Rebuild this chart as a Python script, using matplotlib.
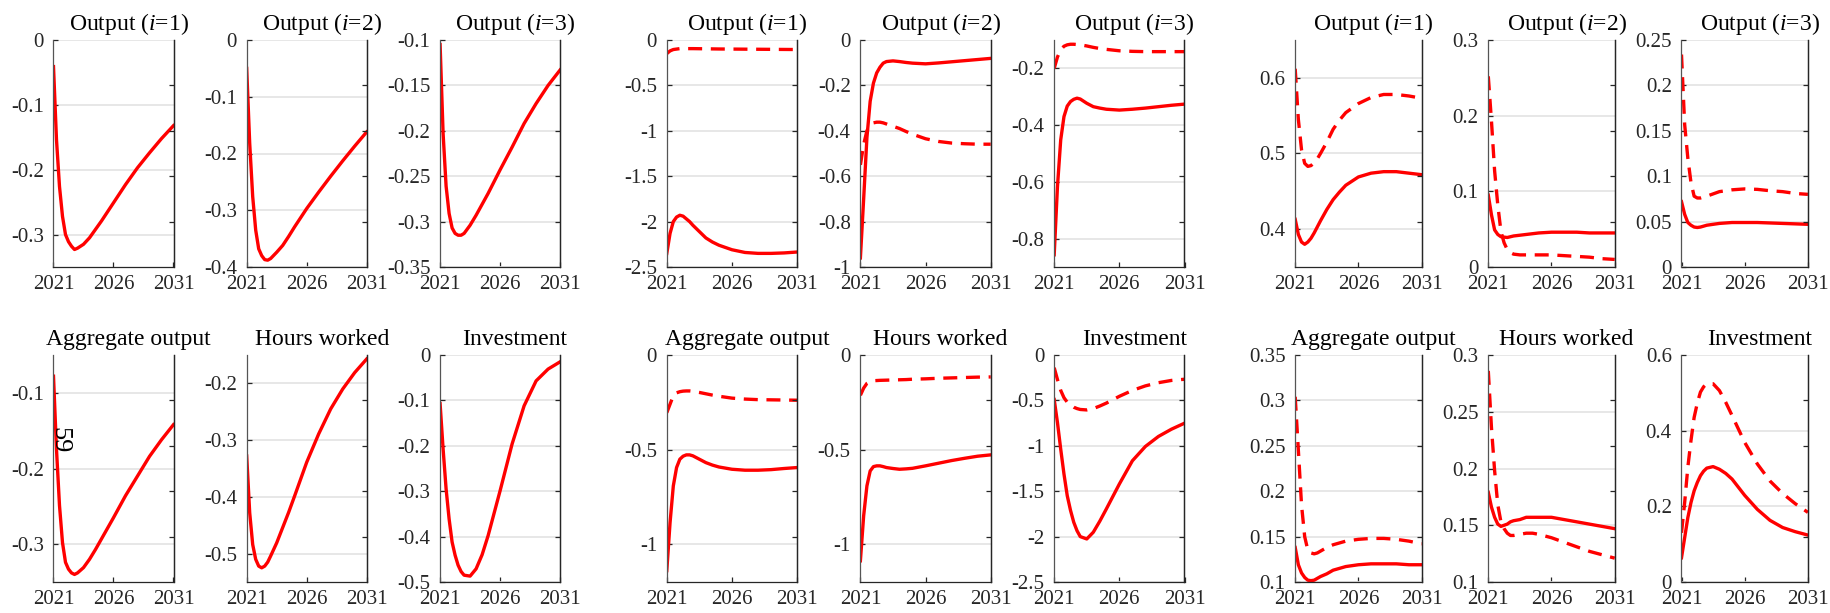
import numpy as np
import matplotlib
matplotlib.use('agg')
import matplotlib.pyplot as plt
from matplotlib.ticker import FormatStrFormatter

plt.rcParams['font.family'] = 'serif'
plt.rcParams['font.serif'] = ['Liberation Serif', 'DejaVu Serif']
plt.rcParams['mathtext.fontset'] = 'custom'
plt.rcParams['mathtext.rm'] = 'Liberation Serif'
plt.rcParams['mathtext.it'] = 'Liberation Serif:italic'

# sample points (years)
years = [2021, 2021.25, 2021.5, 2021.75, 2022, 2022.25, 2022.5, 2022.75, 2023,
         2023.5, 2024, 2024.5, 2025, 2026, 2027, 2028, 2029, 2030, 2031]

# ---- block 1 (single line) ----
b1_out1 = [-0.041, -0.154, -0.226, -0.272, -0.300, -0.311, -0.318, -0.323, -0.321,
           -0.315, -0.305, -0.292, -0.279, -0.251, -0.223, -0.197, -0.174, -0.152, -0.132]
b1_out2 = [-0.050, -0.182, -0.276, -0.335, -0.368, -0.380, -0.387, -0.388, -0.385,
           -0.374, -0.362, -0.346, -0.329, -0.297, -0.268, -0.240, -0.213, -0.187, -0.162]
b1_out3 = [-0.105, -0.203, -0.261, -0.291, -0.307, -0.313, -0.315, -0.315, -0.313,
           -0.304, -0.293, -0.281, -0.269, -0.243, -0.218, -0.192, -0.170, -0.150, -0.133]
b1_agg = [-0.078, -0.175, -0.249, -0.298, -0.324, -0.333, -0.338, -0.340, -0.338,
          -0.331, -0.320, -0.307, -0.293, -0.265, -0.236, -0.210, -0.184, -0.162, -0.142]
b1_hours = [-0.328, -0.428, -0.484, -0.510, -0.522, -0.525, -0.522, -0.515, -0.504,
            -0.481, -0.454, -0.427, -0.398, -0.339, -0.289, -0.245, -0.210, -0.181, -0.157]
b1_inv = [-0.107, -0.207, -0.295, -0.361, -0.412, -0.441, -0.463, -0.477, -0.485,
          -0.487, -0.471, -0.440, -0.398, -0.299, -0.196, -0.112, -0.057, -0.031, -0.015]

# ---- block 2 (solid / dashed) ----
b2_out1_s = [-2.35, -2.13, -2.00, -1.95, -1.93, -1.94, -1.97, -2.00, -2.04,
             -2.11, -2.18, -2.225, -2.26, -2.31, -2.34, -2.35, -2.35, -2.345, -2.335]
b2_out1_d = [-0.15, -0.12, -0.105, -0.10, -0.095, -0.095, -0.095, -0.095, -0.095,
             -0.096, -0.097, -0.098, -0.099, -0.100, -0.101, -0.102, -0.103, -0.104, -0.105]
b2_out2_s = [-0.96, -0.70, -0.43, -0.27, -0.19, -0.145, -0.12, -0.102, -0.095,
             -0.092, -0.095, -0.099, -0.102, -0.105, -0.101, -0.096, -0.091, -0.086, -0.081]
b2_out2_d = [-0.55, -0.46, -0.40, -0.375, -0.365, -0.362, -0.362, -0.365, -0.370,
             -0.380, -0.390, -0.403, -0.415, -0.435, -0.447, -0.454, -0.457, -0.459, -0.459]
b2_out3_s = [-0.857, -0.617, -0.452, -0.370, -0.333, -0.317, -0.309, -0.305, -0.308,
             -0.323, -0.335, -0.340, -0.344, -0.347, -0.344, -0.340, -0.335, -0.330, -0.326]
b2_out3_d = [-0.20, -0.16, -0.135, -0.122, -0.117, -0.115, -0.115, -0.116, -0.117,
             -0.121, -0.126, -0.130, -0.133, -0.138, -0.140, -0.141, -0.141, -0.141, -0.141]
b2_agg_s = [-1.14, -0.886, -0.692, -0.595, -0.551, -0.535, -0.528, -0.528, -0.533,
            -0.551, -0.569, -0.582, -0.592, -0.604, -0.609, -0.609, -0.606, -0.600, -0.595]
b2_agg_d = [-0.305, -0.26, -0.215, -0.20, -0.194, -0.191, -0.190, -0.190, -0.192,
            -0.198, -0.205, -0.212, -0.218, -0.228, -0.233, -0.236, -0.237, -0.238, -0.239]
b2_hours_s = [-1.088, -0.850, -0.692, -0.613, -0.590, -0.586, -0.586, -0.590, -0.595,
              -0.600, -0.604, -0.602, -0.599, -0.586, -0.572, -0.558, -0.546, -0.535, -0.528]
b2_hours_d = [-0.213, -0.175, -0.150, -0.140, -0.136, -0.135, -0.134, -0.1335, -0.133,
              -0.132, -0.131, -0.130, -0.128, -0.126, -0.123, -0.121, -0.119, -0.117, -0.116]
b2_inv_s = [-0.49, -0.744, -1.037, -1.311, -1.549, -1.71, -1.842, -1.935, -2.000,
            -2.026, -1.952, -1.83, -1.696, -1.421, -1.165, -1.007, -0.897, -0.817, -0.751]
b2_inv_d = [-0.14, -0.27, -0.39, -0.47, -0.52, -0.55, -0.575, -0.59, -0.60,
            -0.605, -0.59, -0.562, -0.53, -0.455, -0.39, -0.34, -0.305, -0.28, -0.267]

# ---- block 3 (solid / dashed) ----
b3_out1_s = [0.413, 0.393, 0.383, 0.380, 0.383, 0.388, 0.395, 0.403, 0.411,
             0.426, 0.439, 0.449, 0.458, 0.469, 0.474, 0.476, 0.476, 0.474, 0.472]
b3_out1_d = [0.612, 0.545, 0.505, 0.487, 0.483, 0.484, 0.488, 0.493, 0.500,
             0.515, 0.532, 0.544, 0.554, 0.566, 0.574, 0.578, 0.578, 0.576, 0.573]
b3_out2_s = [0.095, 0.069, 0.049, 0.043, 0.040, 0.0395, 0.039, 0.040, 0.041,
             0.042, 0.043, 0.044, 0.045, 0.046, 0.046, 0.046, 0.045, 0.045, 0.045]
b3_out2_d = [0.252, 0.193, 0.127, 0.082, 0.047, 0.032, 0.023, 0.019, 0.017,
             0.016, 0.016, 0.016, 0.016, 0.016, 0.015, 0.014, 0.013, 0.011, 0.010]
b3_out3_s = [0.072, 0.058, 0.049, 0.046, 0.044, 0.0435, 0.044, 0.045, 0.046,
             0.047, 0.048, 0.0485, 0.049, 0.049, 0.049, 0.0485, 0.048, 0.0475, 0.047]
b3_out3_d = [0.234, 0.157, 0.120, 0.093, 0.078, 0.076, 0.076, 0.077, 0.078,
             0.0805, 0.083, 0.084, 0.085, 0.086, 0.0855, 0.084, 0.083, 0.081, 0.080]
b3_agg_s = [0.138, 0.119, 0.110, 0.105, 0.102, 0.1015, 0.102, 0.104, 0.106,
            0.109, 0.113, 0.115, 0.117, 0.119, 0.120, 0.120, 0.120, 0.119, 0.119]
b3_agg_d = [0.304, 0.245, 0.185, 0.150, 0.135, 0.132, 0.131, 0.132, 0.134,
            0.138, 0.141, 0.143, 0.145, 0.147, 0.148, 0.148, 0.147, 0.145, 0.142]
b3_hours_s = [0.179, 0.166, 0.157, 0.151, 0.149, 0.150, 0.151, 0.153, 0.154,
              0.155, 0.157, 0.157, 0.157, 0.157, 0.155, 0.153, 0.151, 0.149, 0.147]
b3_hours_d = [0.286, 0.236, 0.198, 0.168, 0.153, 0.147, 0.143, 0.141, 0.141,
              0.142, 0.143, 0.143, 0.142, 0.139, 0.135, 0.131, 0.127, 0.124, 0.121]
b3_inv_s = [0.064, 0.117, 0.170, 0.210, 0.241, 0.263, 0.281, 0.293, 0.301,
            0.305, 0.298, 0.287, 0.272, 0.229, 0.192, 0.163, 0.144, 0.133, 0.124]
b3_inv_d = [0.13, 0.21, 0.303, 0.374, 0.435, 0.473, 0.502, 0.516, 0.524,
            0.524, 0.506, 0.475, 0.44, 0.369, 0.312, 0.267, 0.234, 0.207, 0.184]

xtick_vals = [2021, 2026, 2031]
t_out1 = r'Output ($\mathit{i}$=$\mathit{1}$)'
t_out2 = r'Output ($\mathit{i}$=$\mathit{2}$)'
t_out3 = r'Output ($\mathit{i}$=$\mathit{3}$)'

# (row, col, title, solid, dashed, ylim, yticks)
panels = [
    (0, 0, t_out1, b1_out1, None, (-0.35, 0), np.arange(-0.3, 0.01, 0.1)),
    (0, 1, t_out2, b1_out2, None, (-0.4, 0), np.arange(-0.4, 0.01, 0.1)),
    (0, 2, t_out3, b1_out3, None, (-0.35, -0.1), np.arange(-0.35, -0.09, 0.05)),
    (1, 0, 'Aggregate output', b1_agg, None, (-0.35, -0.05), [-0.3, -0.2, -0.1]),
    (1, 1, 'Hours worked', b1_hours, None, (-0.55, -0.15), [-0.5, -0.4, -0.3, -0.2]),
    (1, 2, 'Investment', b1_inv, None, (-0.5, 0), np.arange(-0.5, 0.01, 0.1)),
    (0, 3, t_out1, b2_out1_s, b2_out1_d, (-2.5, 0), np.arange(-2.5, 0.01, 0.5)),
    (0, 4, t_out2, b2_out2_s, b2_out2_d, (-1, 0), np.arange(-1, 0.01, 0.2)),
    (0, 5, t_out3, b2_out3_s, b2_out3_d, (-0.9, -0.1), [-0.8, -0.6, -0.4, -0.2]),
    (1, 3, 'Aggregate output', b2_agg_s, b2_agg_d, (-1.2, 0), [-1, -0.5, 0]),
    (1, 4, 'Hours worked', b2_hours_s, b2_hours_d, (-1.2, 0), [-1, -0.5, 0]),
    (1, 5, 'Investment', b2_inv_s, b2_inv_d, (-2.5, 0), np.arange(-2.5, 0.01, 0.5)),
    (0, 6, t_out1, b3_out1_s, b3_out1_d, (0.35, 0.65), [0.4, 0.5, 0.6]),
    (0, 7, t_out2, b3_out2_s, b3_out2_d, (0, 0.3), [0, 0.1, 0.2, 0.3]),
    (0, 8, t_out3, b3_out3_s, b3_out3_d, (0, 0.25), np.arange(0, 0.26, 0.05)),
    (1, 6, 'Aggregate output', b3_agg_s, b3_agg_d, (0.1, 0.35), np.arange(0.1, 0.36, 0.05)),
    (1, 7, 'Hours worked', b3_hours_s, b3_hours_d, (0.1, 0.3), np.arange(0.1, 0.31, 0.05)),
    (1, 8, 'Investment', b3_inv_s, b3_inv_d, (0, 0.6), [0, 0.2, 0.4, 0.6]),
]

W, H = 1831, 613
col_left = [53.5, 246.7, 440.1, 666.8, 860.4, 1054.2, 1295.2, 1488.3, 1681.5]
col_width = [120, 120, 120, 130.3, 130.3, 130.3, 126.4, 126.4, 126.4]
row_top = [40, 355]
ax_h = 227

ink = '#262626'
fig = plt.figure(figsize=(W / 100, H / 100), dpi=100)

for row, col, title, solid, dashed, ylim, yticks in panels:
    l, w = col_left[col], col_width[col]
    ax = fig.add_axes([l / W, 1 - (row_top[row] + ax_h) / H, w / W, ax_h / H])
    ax.plot(years, solid, color='red', lw=2.4)
    if dashed is not None:
        ax.plot(years, dashed, color='red', lw=2.4, dashes=(4.2, 2.6))
    ax.set_xlim(2021, 2031)
    ax.set_ylim(*ylim)
    ax.set_xticks(xtick_vals)
    ax.set_yticks(np.round(yticks, 3) + 0.0)
    ax.yaxis.set_major_formatter(FormatStrFormatter('%g'))
    ax.grid(axis='y', color='#e3e3e3', lw=1.2)
    ax.set_axisbelow(True)
    ax.spines['top'].set_visible(False)
    for s in ('left', 'right', 'bottom'):
        ax.spines[s].set_color(ink)
        ax.spines[s].set_linewidth(0.9)
    ax.spines['left'].set_color('#555555')
    ax.tick_params(direction='in', length=3.5, width=0.9, colors=ink, labelsize=15)
    ax.tick_params(axis='y', pad=7)
    ax.tick_params(axis='x', pad=6)
    # right-hand tick marks of the box
    ax2 = ax.twinx()
    ax2.set_ylim(0, 1)
    ax2.set_yticks([0.2, 0.4, 0.6, 0.8])
    ax2.tick_params(direction='in', length=3.5, width=0.9, colors=ink, labelright=False)
    for s in ('left', 'top', 'bottom'):
        ax2.spines[s].set_visible(False)
    ax2.spines['right'].set_color(ink)
    ax2.spines['right'].set_linewidth(0.9)
    ax.text(0.5 + 15 / w, 1 + 10 / ax_h, title, transform=ax.transAxes,
            ha='center', va='baseline', fontsize=17, color='black',
            family='Liberation Serif')

fig.text(59 / W, 1 - 440 / H, '59', rotation=-90, ha='center', va='center',
         fontsize=19, color='black', family='Liberation Serif')

fig.savefig('out.png', dpi=100)
